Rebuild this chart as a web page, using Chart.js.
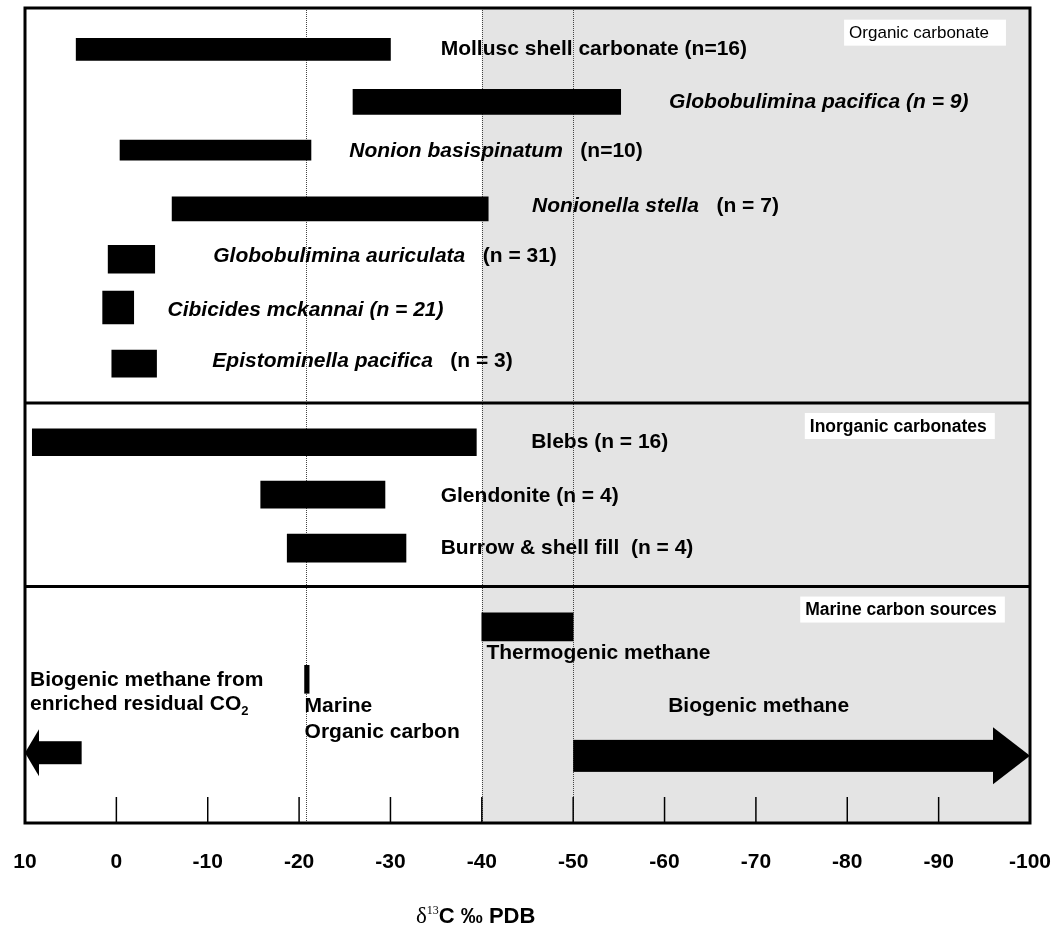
<!DOCTYPE html>
<html>
<head>
<meta charset="utf-8">
<title>δ13C ranges of carbonates and marine carbon sources</title>
<script src="https://cdn.jsdelivr.net/npm/chart.js@4.4.0/dist/chart.umd.min.js"></script>
<style>
  html, body { margin: 0; padding: 0; background: #ffffff; }
  canvas { display: block; }
</style>
</head>
<body>
<canvas id="chart" width="1060" height="931"></canvas>
<script>
// ---- data: δ13C ranges in ‰ PDB, [heavy end, light end] ----
const organicNames = [
  'Mollusc shell carbonate', 'Globobulimina pacifica', 'Nonion basispinatum',
  'Nonionella stella', 'Globobulimina auriculata', 'Cibicides mckannai', 'Epistominella pacifica'
];
const organicCounts = [16, 9, 10, 7, 31, 21, 3];
const organicRanges = [
  [4.4, -30.0], [-25.9, -55.2], [-0.4, -21.3], [-6.1, -40.7],
  [0.9, -4.2], [1.5, -1.9], [0.5, -4.4]
];

const inorganicNames = ['Blebs', 'Glendonite', 'Burrow & shell fill'];
const inorganicCounts = [16, 4, 4];
const inorganicRanges = [[9.2, -39.4], [-15.8, -29.4], [-18.7, -31.7]];

const sourceNames = ['Thermogenic methane', 'Marine Organic carbon'];
const sourceRanges = [[-40, -50], [-20.6, -21.1]];

// open-ended ranges drawn as arrows: [start, arrow tip]
const arrowNames = ['Biogenic methane', 'Biogenic methane from enriched residual CO2'];
const arrowRanges = [[-50, -100], [3.8, 10]];

const tickValues = [10, 0, -10, -20, -30, -40, -50, -60, -70, -80, -90, -100];
const shadedRange = [-40, -100];
const referenceLines = [-20.8, -40, -50];

// ---- layout: row slots on the hidden vertical axis, bar thickness in px ----
const organicRows = [0.99, 1.99, 2.91, 4.03, 4.99, 5.91, 6.98];
const organicThick = [22, 25, 20, 24, 28, 33, 27];
const inorganicRows = [8.48, 9.48, 10.5];
const inorganicThick = [27, 27, 28];
const sourceRows = [12.0, 13.0];
const sourceThick = [28, 28];
const arrowRows = [14.46, 14.40];
const arrowBody = [32, 23];
const arrowHead = [57, 47];
const arrowHeadLen = [37, 14];
const panelDividers = [7.73, 11.23];

const SANS = "'Liberation Sans', Arial, Helvetica, sans-serif";
const SERIF = "'Liberation Serif', 'Times New Roman', serif";
const FONTS = {
  b: 'bold 21px ' + SANS,
  bi: 'italic bold 21px ' + SANS,
  r: '21px ' + SANS
};

// text next to the bars: [row, x value where text starts, parts]
const barLabels = [
  [0.98, -35.5, [[organicNames[0] + ' (n=' + organicCounts[0] + ')', 'b']]],
  [1.99, -60.5, [[organicNames[1] + ' (n = ' + organicCounts[1] + ')', 'bi']]],
  [2.94, -25.5, [[organicNames[2], 'bi'], ['   (n=' + organicCounts[2] + ')', 'b']]],
  [3.97, -45.5, [[organicNames[3], 'bi'], ['   (n = ' + organicCounts[3] + ')', 'b']]],
  [4.94, -10.6, [[organicNames[4], 'bi'], ['   (n = ' + organicCounts[4] + ')', 'b']]],
  [5.97, -5.6, [[organicNames[5] + ' (n = ' + organicCounts[5] + ')', 'bi']]],
  [6.94, -10.5, [[organicNames[6], 'bi'], ['   (n = ' + organicCounts[6] + ')', 'b']]],
  [8.48, -45.4, [[inorganicNames[0] + ' (n = ' + inorganicCounts[0] + ')', 'b']]],
  [9.51, -35.5, [[inorganicNames[1] + ' (n = ' + inorganicCounts[1] + ')', 'b']]],
  [10.5, -35.5, [[inorganicNames[2] + '  (n = ' + inorganicCounts[2] + ')', 'b']]],
  [12.5, -40.5, [[sourceNames[0], 'b']]],
  [13.52, -20.6, [['Marine', 'b']]],
  [14.01, -20.6, [['Organic carbon', 'b']]],
  [13.52, -60.4, [[arrowNames[0], 'b']]],
  [13.01, 9.45, [['Biogenic methane from', 'b']]],
  [13.47, 9.45, [['enriched residual CO', 'b'], ['2', 'sub']]]
];

// panel captions in white boxes: [row, x value, text, font, right padding]
const panelTags = [
  [0.67, -80.2, 'Organic carbonate', '17px ' + SANS, 17],
  [8.17, -75.9, 'Inorganic carbonates', 'bold 17.5px ' + SANS, 8],
  [11.67, -75.4, 'Marine carbon sources', 'bold 17.5px ' + SANS, 8]
];

// ---- datasets: one floating horizontal bar per range ----
const datasets = [];
function addRanges(ranges, rows, thick) {
  ranges.forEach((r, i) => {
    datasets.push({
      data: [{ x: r, y: rows[i] }],
      backgroundColor: '#000000',
      borderWidth: 0,
      borderSkipped: false,
      barThickness: thick[i],
      grouped: false
    });
  });
}
addRanges(organicRanges, organicRows, organicThick);
addRanges(inorganicRanges, inorganicRows, inorganicThick);
addRanges(sourceRanges, sourceRows, sourceThick);

function drawParts(ctx, x, y, parts) {
  ctx.textBaseline = 'middle';
  ctx.textAlign = 'left';
  parts.forEach(([text, style]) => {
    if (style === 'sub') {
      ctx.font = 'bold 13px ' + SANS;
      ctx.fillText(text, x, y + 7);
    } else {
      ctx.font = FONTS[style];
      ctx.fillText(text, x, y);
    }
    x += ctx.measureText(text).width;
  });
}

const decorPlugin = {
  id: 'decor',
  beforeDatasetsDraw(chart) {
    const { ctx, chartArea: a, scales: { x } } = chart;
    ctx.save();
    // shaded methane field
    const s0 = x.getPixelForValue(shadedRange[0]);
    const s1 = x.getPixelForValue(shadedRange[1]);
    ctx.fillStyle = '#e4e4e4';
    ctx.fillRect(Math.min(s0, s1), a.top, Math.abs(s1 - s0), a.bottom - a.top);
    // dotted reference lines
    ctx.strokeStyle = '#444444';
    ctx.lineWidth = 1;
    ctx.setLineDash([1, 1]);
    referenceLines.forEach(v => {
      const px = Math.round(x.getPixelForValue(v)) + 0.5;
      ctx.beginPath();
      ctx.moveTo(px, a.top);
      ctx.lineTo(px, a.bottom);
      ctx.stroke();
    });
    ctx.restore();
  },
  afterDatasetsDraw(chart) {
    const { ctx, chartArea: a, scales: { x, y } } = chart;
    ctx.save();
    ctx.fillStyle = '#000000';
    // arrows for open-ended ranges
    arrowRanges.forEach((r, i) => {
      const x0 = x.getPixelForValue(r[0]);
      const x1 = x.getPixelForValue(r[1]);
      const dir = Math.sign(x1 - x0);
      const yc = y.getPixelForValue(arrowRows[i]);
      const xb = x1 - dir * arrowHeadLen[i];
      ctx.fillRect(Math.min(x0, xb), yc - arrowBody[i] / 2, Math.abs(xb - x0), arrowBody[i]);
      ctx.beginPath();
      ctx.moveTo(xb, yc - arrowHead[i] / 2);
      ctx.lineTo(x1, yc);
      ctx.lineTo(xb, yc + arrowHead[i] / 2);
      ctx.closePath();
      ctx.fill();
    });
    // inner tick marks and tick labels from the x scale
    ctx.strokeStyle = '#000000';
    ctx.lineWidth = 1.5;
    ctx.font = 'bold 21px ' + SANS;
    ctx.textAlign = 'center';
    ctx.textBaseline = 'middle';
    x.ticks.forEach((t, i) => {
      const px = x.getPixelForTick(i);
      if (i > 0 && i < x.ticks.length - 1) {
        ctx.beginPath();
        ctx.moveTo(px, a.bottom);
        ctx.lineTo(px, a.bottom - 26);
        ctx.stroke();
      }
      ctx.fillText(t.label != null ? t.label : String(t.value), px, a.bottom + 39);
    });
    // panel dividers and frame
    ctx.lineWidth = 3;
    panelDividers.forEach(v => {
      const py = y.getPixelForValue(v);
      ctx.beginPath();
      ctx.moveTo(a.left, py);
      ctx.lineTo(a.right, py);
      ctx.stroke();
    });
    ctx.strokeRect(a.left, a.top, a.right - a.left, a.bottom - a.top);
    // bar labels
    ctx.fillStyle = '#000000';
    barLabels.forEach(([row, xv, parts]) => {
      drawParts(ctx, x.getPixelForValue(xv), y.getPixelForValue(row), parts);
    });
    // panel captions
    panelTags.forEach(([row, xv, text, font, padR]) => {
      const px = x.getPixelForValue(xv);
      const py = y.getPixelForValue(row);
      ctx.font = font;
      ctx.textAlign = 'left';
      const w = ctx.measureText(text).width;
      ctx.fillStyle = '#ffffff';
      ctx.fillRect(px - 5, py - 13, w + 5 + padR, 26);
      ctx.fillStyle = '#000000';
      ctx.textBaseline = 'middle';
      ctx.fillText(text, px, py + 1);
    });
    // axis title: δ13C ‰ PDB
    let tx = a.left + 391;
    const ty = a.bottom + 94;
    ctx.textAlign = 'left';
    ctx.textBaseline = 'middle';
    ctx.font = '23px ' + SERIF;
    ctx.fillText('δ', tx, ty);
    tx += ctx.measureText('δ').width;
    ctx.font = '12px ' + SERIF;
    ctx.fillText('13', tx, ty - 6);
    tx += ctx.measureText('13').width;
    ctx.font = 'bold 22px ' + SANS;
    ctx.fillText('C ‰ PDB', tx, ty);
    ctx.restore();
  }
};

new Chart(document.getElementById('chart'), {
  type: 'bar',
  data: { datasets },
  options: {
    indexAxis: 'y',
    responsive: false,
    animation: false,
    events: [],
    layout: { padding: { left: 25, right: 30, top: 8, bottom: 108 } },
    plugins: { legend: { display: false }, tooltip: { enabled: false } },
    scales: {
      x: {
        type: 'linear',
        display: false,
        min: -100,
        max: 10,
        reverse: true,
        afterBuildTicks: s => { s.ticks = tickValues.map(v => ({ value: v })); },
        ticks: { callback: v => String(v) }
      },
      y: {
        type: 'linear',
        display: false,
        offset: false,
        min: 0.2,
        max: 15.74,
        reverse: true
      }
    }
  },
  plugins: [decorPlugin]
});
</script>
</body>
</html>
